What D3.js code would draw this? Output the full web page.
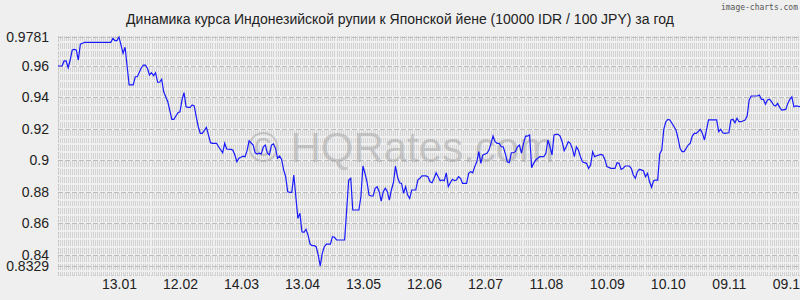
<!DOCTYPE html>
<html>
<head>
<meta charset="utf-8">
<script src="https://cdn.jsdelivr.net/npm/d3@7"></script>
<style>
  html, body { margin: 0; padding: 0; background: #efefef; }
  svg { display: block; font-family: "Liberation Sans", Arial, sans-serif; }
</style>
</head>
<body>
<div id="chart"></div>
<script>
// days counted from the first date of the period (14.12)
const startDate = new Date(2012, 11, 14);
const endDate = new Date(2013, 11, 14);

const dayOffsets = [
  0, 2, 3, 4, 5, 6, 7, 8, 9, 10, 11, 12, 13, 26, 27, 28, 29, 30, 31, 32, 33, 35, 37, 38, 39,
  41, 42, 43, 44, 45, 46, 47, 48, 49, 50, 51, 52, 53, 54, 56, 57, 58, 59, 60, 61, 62, 63, 64, 65,
  66, 67, 68, 69, 70, 71, 73, 74, 75, 76, 78, 79, 81, 82, 83, 85, 86, 87, 88, 89, 90, 91, 92, 93, 94,
  96, 97, 98, 99, 100, 101, 102, 103, 104, 105, 106, 107, 108, 109, 110, 111, 112, 113, 114, 115,
  116, 117, 118, 119, 120, 121, 122, 123, 124, 125, 126, 127, 128, 129, 130, 131, 132, 134, 135, 136, 137, 139,
  141, 143, 144, 145, 146, 148, 149, 150, 151, 152, 153, 154, 155, 156, 157, 158, 159, 160, 161, 162,
  163, 164, 165, 166, 167, 168, 169, 170, 171, 172, 173, 174, 175, 176, 177, 178, 179, 181, 182, 183,
  184, 185, 186, 187, 188, 189, 190, 191, 192, 193, 194, 195, 196, 197, 198, 199, 200, 201, 202,
  203, 204, 205, 206, 207, 208, 209, 211, 212, 213, 214, 215, 216, 217, 218, 219, 220, 221, 222, 223,
  224, 225, 226, 227, 228, 229, 230, 231, 232, 233, 234, 235, 236, 237, 239, 240, 241, 242, 243, 244,
  245, 246, 247, 248, 249, 250, 251, 252, 253, 254, 255, 256, 257, 258, 259, 260, 261, 262, 263, 264,
  265, 267, 268, 269, 270, 272,
  274, 275, 276, 277, 278, 279, 281, 282, 283, 284, 285, 286, 288, 289, 290, 291, 292, 293, 294, 295,
  296, 297, 298, 299, 300, 301, 302, 304, 305, 306, 307, 308, 310, 311, 312, 313, 314, 316, 317, 318,
  319, 320, 324, 325, 326, 327, 328, 330, 331, 332, 333, 334, 335, 336, 338, 339, 340, 341, 344, 345,
  346, 347, 348, 349, 350, 351, 352, 353, 354, 355, 356, 358, 359, 360, 361, 362, 363, 365
];

const rates = [
  0.9597, 0.9597, 0.9629, 0.9629, 0.9586, 0.9635, 0.9699, 0.9703, 0.9699, 0.9635, 0.9735, 0.9741, 0.9747, 0.9747, 0.9773, 0.9758, 0.9758, 0.9781, 0.9730, 0.9678, 0.9716, 0.9477, 0.9477, 0.9529, 0.9529,
  0.9586, 0.9603, 0.9603, 0.9583, 0.9540, 0.9555, 0.9536, 0.9555, 0.9494, 0.9494, 0.9513, 0.9434, 0.9402, 0.9371, 0.9259, 0.9259, 0.9280, 0.9301, 0.9307, 0.9382, 0.9428, 0.9339, 0.9335, 0.9335,
  0.9350, 0.9344, 0.9276, 0.9212, 0.9170, 0.9170, 0.9208, 0.9160, 0.9111, 0.9107, 0.9107, 0.9085, 0.9047, 0.9107, 0.9071, 0.9069, 0.9064, 0.9033, 0.8990, 0.9012, 0.9018, 0.9026, 0.9022, 0.9060, 0.9123,
  0.9096, 0.9047, 0.9039, 0.9044, 0.9039, 0.9085, 0.9096, 0.9044, 0.9033, 0.9096, 0.9103, 0.9075, 0.9012, 0.9026, 0.9005, 0.8938, 0.8895, 0.8800, 0.8796, 0.8796,
  0.8906, 0.8768, 0.8631, 0.8663, 0.8546, 0.8543, 0.8562, 0.8525, 0.8468, 0.8458, 0.8458, 0.8451, 0.8399, 0.8329, 0.8409, 0.8451, 0.8468, 0.8468, 0.8515, 0.8511, 0.8494, 0.8494,
  0.8494, 0.8874, 0.8885, 0.8684, 0.8684, 0.8684, 0.8768, 0.8963, 0.8917, 0.8863, 0.8779, 0.8773, 0.8773, 0.8822, 0.8832, 0.8800, 0.8741, 0.8800, 0.8822, 0.8800,
  0.8747, 0.8811, 0.8857, 0.8963, 0.8895, 0.8857, 0.8853, 0.8790, 0.8832, 0.8779, 0.8758, 0.8811, 0.8811, 0.8811, 0.8874, 0.8885, 0.8900, 0.8900, 0.8895, 0.8863,
  0.8857, 0.8885, 0.8920, 0.8895, 0.8870, 0.8874, 0.8870, 0.8920, 0.8832, 0.8857, 0.8879, 0.8870, 0.8874, 0.8895, 0.8885, 0.8853, 0.8853, 0.8853, 0.8917,
  0.8927, 0.8920, 0.8959, 0.8990, 0.9054, 0.8980, 0.9033, 0.9044, 0.9064, 0.9107, 0.9153, 0.9117, 0.9107, 0.9107, 0.9085, 0.9085, 0.9044, 0.8990, 0.8984, 0.9047,
  0.9047, 0.9054, 0.9085, 0.9096, 0.9044, 0.9107, 0.9153, 0.9153, 0.9160, 0.8952, 0.8980, 0.9001, 0.9012, 0.9022, 0.9022, 0.9044, 0.9128, 0.9085, 0.9033, 0.9160,
  0.9164, 0.9164, 0.9153, 0.9117, 0.9060, 0.9085, 0.9117, 0.9107, 0.9075, 0.9022, 0.9085, 0.9064, 0.9022, 0.8990, 0.8984, 0.8980, 0.8948, 0.8969, 0.9054, 0.9022,
  0.9028, 0.9037, 0.9033, 0.9005, 0.8959, 0.8948,
  0.8948, 0.8984, 0.8980, 0.8942, 0.8948, 0.8963, 0.8963, 0.8948, 0.8906, 0.8885, 0.8927, 0.8942, 0.8933, 0.8895, 0.8917, 0.8863, 0.8828, 0.8870, 0.8874, 0.8874,
  0.9039, 0.9064, 0.9196, 0.9244, 0.9259, 0.9255, 0.9234, 0.9191, 0.9139, 0.9075, 0.9054, 0.9054, 0.9096, 0.9107, 0.9153, 0.9170, 0.9170, 0.9196, 0.9170, 0.9128,
  0.9191, 0.9255, 0.9255, 0.9181, 0.9196, 0.9174, 0.9170, 0.9174, 0.9255, 0.9259, 0.9238, 0.9266, 0.9244, 0.9244, 0.9255, 0.9280, 0.9382, 0.9407, 0.9407, 0.9413,
  0.9386, 0.9386, 0.9354, 0.9382, 0.9386, 0.9371, 0.9350, 0.9344, 0.9360, 0.9335, 0.9318, 0.9322, 0.9360, 0.9386, 0.9402, 0.9339, 0.9344, 0.9339
];

const tickDates = ["2013-01-13", "2013-02-12", "2013-03-14", "2013-04-13", "2013-05-13", "2013-06-12",
  "2013-07-12", "2013-08-11", "2013-09-10", "2013-10-10", "2013-11-09", "2013-12-09"];
const yTicks = [0.8329, 0.84, 0.86, 0.88, 0.9, 0.92, 0.94, 0.96, 0.9781];

const title = "Динамика курса Индонезийской рупии к Японской йене (10000 IDR / 100 JPY) за год";

const w = 800;
const h = 300;
const plotL = 58, plotR = 800, plotT = 36, plotB = 276;

const data = dayOffsets.map((d, i) => ({ date: d3.timeDay.offset(startDate, d), value: rates[i] }));

const svg = d3.select("#chart").append("svg")
  .attr("width", w)
  .attr("height", h);

svg.append("rect").attr("width", w).attr("height", h).attr("fill", "#efefef");

const x = d3.scaleTime().domain([startDate, endDate]).range([plotL, plotR]);
const y = d3.scaleLinear().domain([0.8329, 0.9781]).range([266, 37]);

// grid: one dashed vertical line per day, gaps every 0.005
const period = y(0.955) - y(0.96);
const gap = 2;
const offset = ((period - gap - (y(0.96) - 1 - plotT)) % period + period) % period;

const grid = svg.append("g").attr("shape-rendering", "crispEdges");
grid.selectAll("line.v")
  .data(d3.timeDay.range(startDate, endDate))
  .enter()
  .append("line")
  .attr("class", "v")
  .attr("x1", d => Math.round(x(d)) + 0.5)
  .attr("x2", d => Math.round(x(d)) + 0.5)
  .attr("y1", plotT)
  .attr("y2", plotB)
  .attr("stroke", "#d3d3d3")
  .attr("stroke-dasharray", `${period - gap},${gap}`)
  .attr("stroke-dashoffset", offset);

grid.selectAll("line.h")
  .data(yTicks)
  .enter()
  .append("line")
  .attr("class", "h")
  .attr("x1", plotL)
  .attr("x2", plotR)
  .attr("y1", d => Math.round(y(d)) + 0.5)
  .attr("y2", d => Math.round(y(d)) + 0.5)
  .attr("stroke", "#bdbdbd")
  .attr("stroke-dasharray", "5,2");

grid.append("line")
  .attr("x1", plotL + 0.5).attr("x2", plotL + 0.5)
  .attr("y1", plotT).attr("y2", plotB)
  .attr("stroke", "#c2c2c2")
  .attr("stroke-dasharray", "2,2");

grid.append("line")
  .attr("x1", plotL).attr("x2", plotR)
  .attr("y1", plotB - 0.5).attr("y2", plotB - 0.5)
  .attr("stroke", "#c8c8c8")
  .attr("stroke-dasharray", "1,2");

// watermark
svg.append("text")
  .attr("x", 401)
  .attr("y", 162)
  .attr("text-anchor", "middle")
  .attr("font-size", 42)
  .attr("fill", "#999")
  .attr("fill-opacity", 0.45)
  .text("© HQRates.com");

// axes
const yAxis = d3.axisLeft(y)
  .tickValues(yTicks)
  .tickSize(0)
  .tickPadding(9)
  .tickFormat(d => String(+d.toFixed(4)));
const gy = svg.append("g").attr("transform", `translate(${plotL},0)`).call(yAxis);
gy.select(".domain").remove();
gy.selectAll("text").attr("font-size", 14).attr("fill", "#222").attr("font-family", "Liberation Sans, Arial, sans-serif");

const xAxis = d3.axisBottom(x)
  .tickValues(tickDates.map(s => d3.timeParse("%Y-%m-%d")(s)))
  .tickSize(0)
  .tickPadding(3)
  .tickFormat(d3.timeFormat("%d.%m"));
const gx = svg.append("g").attr("transform", `translate(0,${plotB})`).call(xAxis);
gx.select(".domain").remove();
gx.selectAll("text").attr("font-size", 14).attr("fill", "#222").attr("font-family", "Liberation Sans, Arial, sans-serif");

// the rate line
const line = d3.line()
  .x(d => x(d.date))
  .y(d => y(d.value));

svg.append("path")
  .datum(data)
  .attr("fill", "none")
  .attr("stroke", "#1a1aff")
  .attr("stroke-width", 1.2)
  .attr("d", line);

// title and credit
svg.append("text")
  .attr("x", 400)
  .attr("y", 24)
  .attr("text-anchor", "middle")
  .attr("font-size", 14)
  .attr("fill", "#222")
  .text(title);

svg.append("text")
  .attr("x", 798)
  .attr("y", 10)
  .attr("text-anchor", "end")
  .attr("font-family", "DejaVu Sans Mono, monospace")
  .attr("font-size", 9)
  .attr("fill", "#555")
  .attr("textLength", 77)
  .attr("lengthAdjust", "spacingAndGlyphs")
  .text("image-charts.com");
</script>
</body>
</html>
